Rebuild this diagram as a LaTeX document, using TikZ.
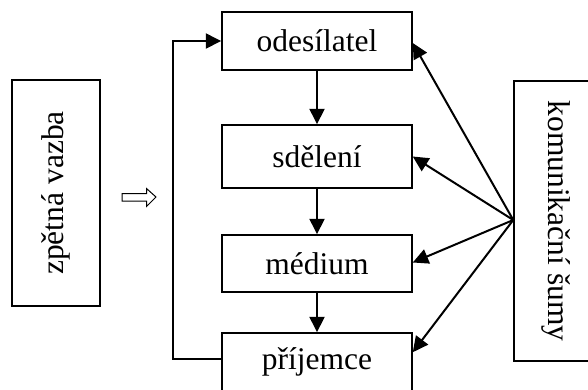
\documentclass[tikz,border=0pt]{standalone}
\usepackage{fontspec}
\setmainfont{Liberation Serif}
\usetikzlibrary{arrows.meta}
\begin{document}
\begin{tikzpicture}[x=1pt,y=-1pt,
  box/.style={draw,line width=1.5pt,inner sep=0pt,font=\fontsize{31.5}{36}\selectfont},
  arr/.style={line width=2pt,-{Triangle[length=15.5pt,width=15pt]}}]
\useasboundingbox (0,0) rectangle (588,389);
\clip (0,0) rectangle (588,389);
\node[box,minimum width=190pt,minimum height=58pt] (od) at (317,41) {odesílatel};
\node[box,minimum width=190pt,minimum height=63pt] (sd) at (317,156.5) {sdělení};
\node[box,minimum width=190pt,minimum height=57pt] (me) at (317,263.5) {médium};
\node[box,minimum width=190pt,minimum height=58pt] (pr) at (317,362) {příjemce};
\node[box,minimum width=88pt,minimum height=226pt] (zv) at (56,193) {\rotatebox{90}{zpětná vazba}};
\node[box,minimum width=84pt,minimum height=280pt] (ks) at (556,221) {\rotatebox{-90}{komunikační šumy}};
\draw[arr] (od) -- (sd);
\draw[arr] (sd) -- (me);
\draw[arr] (me) -- (pr);
\draw[arr] ([yshift=3pt]pr.west) -- ++(-48,0) |- (od.west);
\draw[arr] ([yshift=1pt]ks.west) -- ([yshift=-2pt]od.east);
\draw[arr] ([yshift=1pt]ks.west) -- (sd.east);
\draw[arr] ([yshift=1pt]ks.west) -- ([yshift=1pt]me.east);
\draw[arr] ([yshift=1pt]ks.west) -- ([yshift=-20pt]pr.north east);
\draw[line width=1pt,line join=miter] (122,193.5) -- (146.5,193.5) -- (146.5,188.5) -- (156,197) -- (146.5,206.5) -- (146.5,201) -- (122,201) -- cycle;
\end{tikzpicture}
\end{document}
